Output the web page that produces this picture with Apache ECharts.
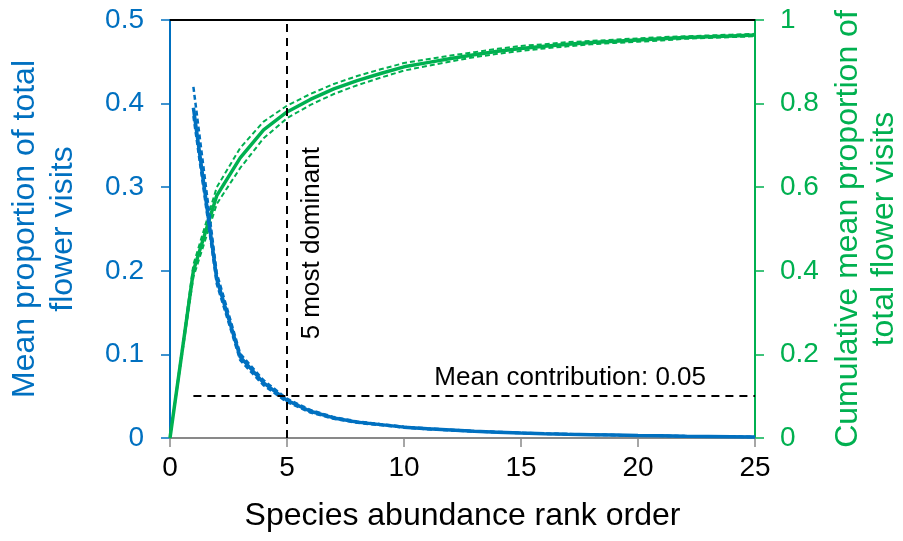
<!DOCTYPE html>
<html lang="en">
<head>
  <meta charset="UTF-8">
  <title>Flower visits by rank</title>
  <script src="https://cdn.jsdelivr.net/npm/echarts@6/dist/echarts.min.js"></script>
</head>
<body style="margin:0">
<div id="main" style="width: 903px;height:541px;"></div>
<script type="text/javascript">

// rank order 1..25
var ranks = [1, 2, 3, 4, 5, 6, 7, 8, 9, 10, 11, 12, 13, 14, 15, 16, 17, 18, 19, 20, 21, 22, 23, 24, 25];

// mean proportion of visits (left axis)
var meanProp = [0.395, 0.19, 0.097, 0.066, 0.045, 0.032, 0.024, 0.019, 0.016, 0.013, 0.011, 0.0095, 0.008, 0.007, 0.006,
  0.0052, 0.0045, 0.004, 0.0035, 0.003, 0.0026, 0.0022, 0.0019, 0.0016, 0.0013];
var meanUpper = [0.42, 0.197, 0.101, 0.069, 0.047, 0.0335, 0.025, 0.0198, 0.0166, 0.0135, 0.0115, 0.0099, 0.0083, 0.0073, 0.0062,
  0.0054, 0.0047, 0.0042, 0.0036, 0.0031, 0.0027, 0.0023, 0.002, 0.0017, 0.0014];
var meanLower = [0.385, 0.184, 0.093, 0.063, 0.043, 0.0305, 0.023, 0.0182, 0.0154, 0.0125, 0.0105, 0.0091, 0.0077, 0.0067, 0.0058,
  0.005, 0.0043, 0.0038, 0.0034, 0.0029, 0.0025, 0.0021, 0.0018, 0.0015, 0.0012];

// cumulative mean proportion (right axis), starts at rank 0
var cumRanks = [0, 1, 2, 3, 4, 5, 6, 7, 8, 9, 10, 11, 12, 13, 14, 15, 16, 17, 18, 19, 20, 21, 22, 23, 24, 25];
var cumProp = [0, 0.40, 0.58, 0.67, 0.737, 0.78, 0.81, 0.835, 0.855, 0.872, 0.888, 0.898, 0.908, 0.917, 0.925, 0.932,
  0.937, 0.942, 0.946, 0.949, 0.952, 0.955, 0.958, 0.960, 0.962, 0.964];
var cumUpper = [0, 0.415, 0.60, 0.694, 0.757, 0.795, 0.823, 0.847, 0.866, 0.882, 0.897, 0.906, 0.915, 0.923, 0.931, 0.938,
  0.942, 0.947, 0.950, 0.953, 0.956, 0.959, 0.961, 0.963, 0.965, 0.967];
var cumLower = [0, 0.385, 0.56, 0.646, 0.717, 0.765, 0.797, 0.823, 0.844, 0.862, 0.879, 0.890, 0.901, 0.911, 0.919, 0.926,
  0.932, 0.937, 0.942, 0.945, 0.948, 0.951, 0.955, 0.957, 0.959, 0.961];

var xTicks = [0, 5, 10, 15, 20, 25];
var dominantRank = 5;
var meanContribution = 0.05;

var BLUE = '#0070C0';
var GREEN = '#00B050';
var FONT = 'Liberation Sans';

function pairs(xs, ys) {
  return xs.map(function (x, i) { return [x, ys[i]]; });
}

var myChart = echarts.init(document.getElementById('main'));

var option = {
  animation: false,
  textStyle: { fontFamily: FONT },
  grid: { left: 170, right: 148, top: 20, bottom: 103, outerBoundsMode: 'none', containLabel: false },
  xAxis: [{
    type: 'value',
    min: xTicks[0],
    max: xTicks[xTicks.length - 1],
    interval: 5,
    name: 'Species abundance rank order',
    nameLocation: 'middle',
    nameGap: 62,
    nameTextStyle: { color: '#000', fontSize: 32, fontFamily: FONT },
    axisLine: { lineStyle: { color: '#898989', width: 2 } },
    axisTick: { show: true, length: 9, lineStyle: { color: '#898989', width: 1.5 } },
    axisLabel: { color: '#000', fontSize: 28, margin: 16, fontFamily: FONT },
    splitLine: { show: false }
  }, {
    type: 'value',
    position: 'top',
    min: 0, max: 25,
    axisLine: { show: true, onZero: false, lineStyle: { color: '#000', width: 2 } },
    axisTick: { show: false },
    axisLabel: { show: false },
    splitLine: { show: false }
  }],
  yAxis: [{
    type: 'value',
    min: 0, max: 0.5, interval: 0.1,
    name: 'Mean proportion of total\nflower visits',
    nameLocation: 'middle',
    nameRotate: 90,
    nameGap: 88,
    nameTextStyle: { color: BLUE, fontSize: 32, lineHeight: 38, fontFamily: FONT },
    axisLine: { show: true, onZero: false, lineStyle: { color: BLUE, width: 2 } },
    axisTick: { show: true, length: 9, lineStyle: { color: BLUE, width: 1.5 } },
    axisLabel: { color: BLUE, fontSize: 28, margin: 26, fontFamily: FONT },
    splitLine: { show: false }
  }, {
    type: 'value',
    position: 'right',
    min: 0, max: 1, interval: 0.2,
    name: 'Cumulative mean proportion of\ntotal flower visits',
    nameLocation: 'middle',
    nameRotate: 90,
    nameGap: 74,
    nameTextStyle: { color: GREEN, fontSize: 32, lineHeight: 36, fontFamily: FONT },
    axisLine: { show: true, onZero: false, lineStyle: { color: GREEN, width: 2 } },
    axisTick: { show: true, length: 9, lineStyle: { color: GREEN, width: 1.5 } },
    axisLabel: { color: GREEN, fontSize: 28, margin: 25, fontFamily: FONT },
    splitLine: { show: false }
  }],
  series: [
    {
      name: 'cum upper', type: 'line', yAxisIndex: 1, symbol: 'none',
      data: pairs(cumRanks, cumUpper),
      lineStyle: { color: GREEN, width: 2, type: [5, 3] }
    },
    {
      name: 'cum lower', type: 'line', yAxisIndex: 1, symbol: 'none',
      data: pairs(cumRanks, cumLower),
      lineStyle: { color: GREEN, width: 2, type: [5, 3] }
    },
    {
      name: 'cumulative', type: 'line', yAxisIndex: 1, symbol: 'none',
      data: pairs(cumRanks, cumProp),
      lineStyle: { color: GREEN, width: 3.5 }
    },
    {
      name: 'upper', type: 'line', symbol: 'none',
      data: pairs(ranks, meanUpper),
      lineStyle: { color: BLUE, width: 2.5, type: [5, 3] }
    },
    {
      name: 'lower', type: 'line', symbol: 'none',
      data: pairs(ranks, meanLower),
      lineStyle: { color: BLUE, width: 2.5, type: [5, 3] }
    },
    {
      name: 'mean', type: 'line', symbol: 'none',
      data: pairs(ranks, meanProp),
      lineStyle: { color: BLUE, width: 3.5 },
      markLine: {
        silent: true,
        symbol: 'none',
        label: { show: false },
        lineStyle: { color: '#000', width: 2, type: [8, 6] },
        data: [
          [{ coord: [dominantRank, 0] }, { coord: [dominantRank, 0.5] }],
          [{ coord: [ranks[0], meanContribution] }, { coord: [ranks[ranks.length - 1], meanContribution] }]
        ]
      }
    }
  ]
};

myChart.setOption(option);

// text labels for the reference lines
var pMid = myChart.convertToPixel({ xAxisIndex: 0, yAxisIndex: 0 }, [dominantRank, 0.233]);
var pMean = myChart.convertToPixel({ xAxisIndex: 0, yAxisIndex: 0 }, [17.1, meanContribution]);
myChart.setOption({
  graphic: [
    {
      type: 'text',
      x: pMid[0] + 25, y: pMid[1],
      rotation: Math.PI / 2,
      style: {
        text: '5 most dominant', fill: '#000', font: '26px "Liberation Sans"',
        align: 'center', verticalAlign: 'middle'
      }
    },
    {
      type: 'text',
      x: pMean[0], y: pMean[1] - 18,
      style: {
        text: 'Mean contribution: 0.05', fill: '#000', font: '26px "Liberation Sans"',
        align: 'center', verticalAlign: 'middle'
      }
    }
  ]
});

</script>
</body>
</html>
